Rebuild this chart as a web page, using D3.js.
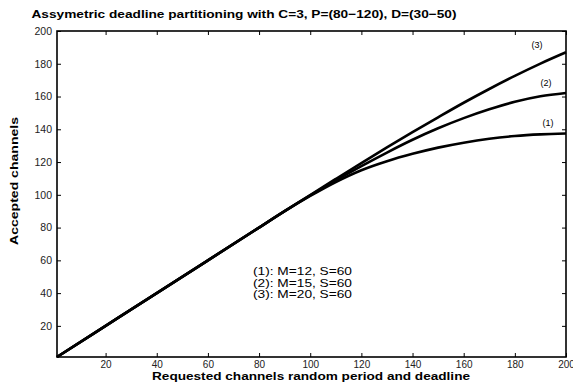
<!DOCTYPE html>
<html>
<head>
<meta charset="utf-8">
<script src="https://d3js.org/d3.v7.min.js"></script>
<style>
body { margin: 0; background: #fff; }
text { font-family: "Liberation Sans", Arial, sans-serif; }
</style>
</head>
<body>
<svg class="chart" width="573" height="385"></svg>
<script>
// requested channels (x) and accepted channels for each configuration
const xs = [1, 20, 40, 60, 80, 90, 100, 110, 120, 130, 140, 150, 160, 170, 180, 190, 200];
const curve1 = [1, 20, 40, 60, 80, 90, 99.3, 107.8, 115, 120.5, 125, 128.8, 131.8, 134.2, 135.9, 136.9, 137.4];
const curve2 = [1, 20, 40, 60, 80, 90, 99.6, 108.8, 117.5, 125.8, 133.6, 140.6, 146.8, 152.2, 156.8, 160.2, 162.2];
const curve3 = [1, 20, 40, 60, 80, 90, 99.9, 109.7, 119.4, 128.9, 138.2, 147.3, 156.2, 164.6, 172.6, 180.1, 187];
const seriesNames = ["(1)", "(2)", "(3)"];
const legendLines = ["(1): M=12, S=60", "(2): M=15, S=60", "(3): M=20, S=60"];
const tickVals = [20, 40, 60, 80, 100, 120, 140, 160, 180, 200];

const svg = d3.select(".chart");
const mLeft = 57, mRight = 566, mTop = 31, mBottom = 357;

const x = d3.scaleLinear().domain([1, 200]).range([mLeft, mRight]);
const y = d3.scaleLinear().domain([1, 200]).range([mBottom, mTop]);

// stretch a text to a given width (the original font runs wide)
function fit(sel, w) {
  sel.attr("textLength", w).attr("lengthAdjust", "spacingAndGlyphs");
  return sel;
}

// frame
svg.append("rect")
  .attr("x", mLeft).attr("y", mTop)
  .attr("width", mRight - mLeft).attr("height", mBottom - mTop)
  .attr("fill", "none").attr("stroke", "black").attr("stroke-width", 1.6);

// axes, ticks pointing inside
const axB = svg.append("g").attr("transform", `translate(0,${mBottom})`)
  .call(d3.axisBottom(x).tickValues(tickVals).tickSizeInner(-4).tickSizeOuter(0).tickPadding(4));
const axL = svg.append("g").attr("transform", `translate(${mLeft},0)`)
  .call(d3.axisLeft(y).tickValues(tickVals).tickSizeInner(-4).tickSizeOuter(0).tickPadding(5));
const axT = svg.append("g").attr("transform", `translate(0,${mTop})`)
  .call(d3.axisTop(x).tickValues(tickVals).tickSizeInner(-4).tickSizeOuter(0).tickFormat(""));
const axR = svg.append("g").attr("transform", `translate(${mRight},0)`)
  .call(d3.axisRight(y).tickValues(tickVals).tickSizeInner(-4).tickSizeOuter(0).tickFormat(""));

[axB, axL, axT, axR].forEach(g => {
  g.select(".domain").remove();
  g.selectAll("line").attr("stroke", "black").attr("stroke-width", 1);
  g.selectAll("text").attr("font-size", 10).attr("fill", "#222")
    .attr("font-family", "Liberation Sans, Arial, sans-serif");
});
axL.selectAll("text").attr("font-size", 10.5);

// curves
const line = d3.line()
  .x(d => x(d[0]))
  .y(d => y(d[1]))
  .curve(d3.curveMonotoneX);

[curve1, curve2, curve3].forEach(c => {
  svg.append("path")
    .datum(xs.map((v, i) => [v, c[i]]))
    .attr("d", line)
    .attr("fill", "none")
    .attr("stroke", "black")
    .attr("stroke-width", 2.6);
});

// curve labels
const labelPos = [[548, 126], [546, 85.5], [537, 48]];
seriesNames.forEach((s, i) => {
  svg.append("text")
    .attr("x", labelPos[i][0]).attr("y", labelPos[i][1])
    .attr("text-anchor", "middle")
    .attr("font-size", 9).attr("fill", "black")
    .text(s);
});

// legend text
legendLines.forEach((s, i) => {
  fit(svg.append("text")
    .attr("x", 253).attr("y", 275 + i * 11.5)
    .attr("font-size", 11.5)
    .text(s), 99);
});

// titles
fit(svg.append("text")
  .attr("x", 31.5).attr("y", 17.5)
  .attr("font-size", 11.5).attr("font-weight", "bold")
  .text("Assymetric deadline partitioning with C=3, P=(80\u2212120), D=(30\u221250)"), 425);

fit(svg.append("text")
  .attr("x", 152).attr("y", 380)
  .attr("font-size", 10.5).attr("font-weight", "bold")
  .text("Requested channels random period and deadline"), 318);

fit(svg.append("text")
  .attr("transform", "translate(18,245) rotate(-90)")
  .attr("font-size", 11.5).attr("font-weight", "bold")
  .text("Accepted channels"), 128);
</script>
</body>
</html>
